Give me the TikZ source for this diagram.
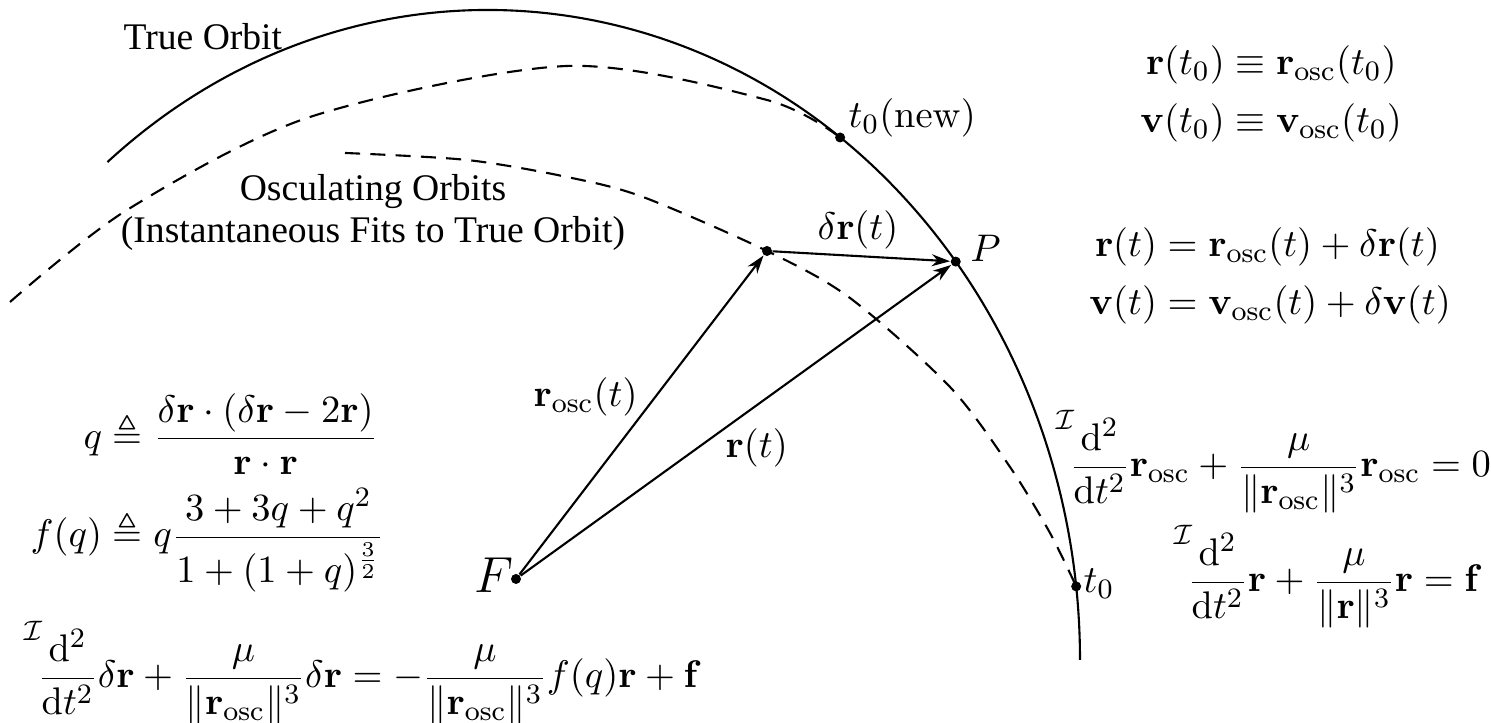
\documentclass[tikz,border=0pt,11pt]{standalone}
\usepackage{amsmath,amssymb}
\usepackage[no-math]{fontspec}
\setmainfont{Liberation Serif}
\usetikzlibrary{arrows.meta}
\newcommand{\oscsub}{\mathrm{osc}}
\newcommand{\Iddt}{{\vphantom{\dfrac{\mathrm{d}^2}{\mathrm{d}t^2}}}^{\mathcal{I}}\!\frac{\mathrm{d}^2}{\mathrm{d}t^2}}

\begin{document}
\begin{tikzpicture}[
		orbit/.style={line width=0.6pt},
		osculating/.style={line width=0.6pt, dash pattern=on 4.3pt off 2.9pt},
		vec/.style={line width=0.6pt, -{Stealth[length=5.2pt, width=3.4pt]}},
		dot/.style={circle, fill, inner sep=0pt, minimum size=0.1cm},
		lbl/.style={inner sep=0pt},
		txt/.style={inner sep=0pt, font=\fontsize{10.7}{12.2}\selectfont}]
		\useasboundingbox (0,0) rectangle (14.91,7.23);
		\coordinate (C) at (4.88,0.63);
		\draw[orbit] (C) ++(130:5.92 and 6.5) arc[start angle=130, end angle=0, x radius=5.92, y radius=6.5];
		\path (C) ++(53.5:5.92 and 6.5) node[dot] (t0new) {};
		\path (C) ++(37.8:5.92 and 6.5) node[dot] (P) {};
		\path (C) ++(6.5:5.92 and 6.5) node[dot] (t0) {};
		\node[dot] (F) at (5.16,1.44) {};
		\node[dot] (oscpt) at (7.67,4.72) {};
		\draw[osculating] plot[smooth] coordinates {(0.10,4.21) (1.27,5.13) (3.10,6.06) (5.67,6.57) (7.67,6.23) (t0new.center)};
		\draw[osculating] plot[smooth] coordinates {(3.45,5.70) (4.67,5.63) (5.67,5.46) (6.43,5.26) (oscpt.center) (8.50,4.25) (9.50,3.36) (10.10,2.56) (10.50,1.90) (t0.center)};
		\draw[vec] (F) -- (oscpt);
		\draw[vec] (F) -- (P);
		\draw[vec] (oscpt) -- (P);
		\node[txt, anchor=base west] (truelbl) at (1.23,6.73) {True Orbit};
		\node[txt, align=center, anchor=base] (osclbl) at (3.73,4.80) {Osculating Orbits\\(Instantaneous Fits to True Orbit)};
		\node[lbl, anchor=base west] at (8.48,5.95) {$t_0(\mathrm{new})$};
		\node[lbl, anchor=base west] at (9.70,4.61) {$P$};
		\node[lbl, anchor=base west] at (8.17,4.83) {$\delta\mathbf{r}(t)$};
		\node[lbl, anchor=base west] at (5.33,3.16) {$\mathbf{r}_{\oscsub}(t)$};
		\node[lbl, anchor=base west] at (7.25,2.65) {$\mathbf{r}(t)$};
		\node[lbl, anchor=base west, font=\fontsize{14}{16}\selectfont] at (4.74,1.30) {$F$};
		\node[lbl, anchor=base west] at (10.83,1.30) {$t_0$};
		\node[lbl] (inicond) at (12.71,6.29) {$\begin{aligned}
			\mathbf{r}(t_0) &\equiv \mathbf{r}_{\oscsub}(t_0)\\
			\mathbf{v}(t_0) &\equiv \mathbf{v}_{\oscsub}(t_0)
		\end{aligned}$};
		\node[lbl] (split) at (12.70,4.47) {$\begin{aligned}
			\mathbf{r}(t) &= \mathbf{r}_{\oscsub}(t) + \delta\mathbf{r}(t)\\
			\mathbf{v}(t) &= \mathbf{v}_{\oscsub}(t) + \delta\mathbf{v}(t)
		\end{aligned}$};
		\node[lbl, anchor=base west] (osceq) at (10.55,2.46)
			{$\displaystyle \Iddt\mathbf{r}_{\oscsub} + \frac{\mu}{\|\mathbf{r}_{\oscsub}\|^3}\mathbf{r}_{\oscsub} = 0$};
		\node[lbl, anchor=base west] (trueeq) at (11.73,1.31)
			{$\displaystyle \Iddt\mathbf{r} + \frac{\mu}{\|\mathbf{r}\|^3}\mathbf{r} = \mathbf{f}$};
		\node[lbl, anchor=west] (qdef) at (0.30,2.30) {$\begin{aligned}
			q &\triangleq \frac{\delta\mathbf{r}\cdot(\delta\mathbf{r}-2\mathbf{r})}{\mathbf{r}\cdot\mathbf{r}}\\
			f(q) &\triangleq q\frac{3+3q+q^2}{1+(1+q)^{\frac{3}{2}}}
		\end{aligned}$};
		\node[lbl, anchor=base west] (perteq) at (0.23,0.35)
			{$\displaystyle \Iddt\delta\mathbf{r} + \frac{\mu}{\|\mathbf{r}_{\oscsub}\|^3}\delta\mathbf{r} = -\frac{\mu}{\|\mathbf{r}_{\oscsub}\|^3}f(q)\mathbf{r} + \mathbf{f}$};
	\end{tikzpicture}
\end{document}
